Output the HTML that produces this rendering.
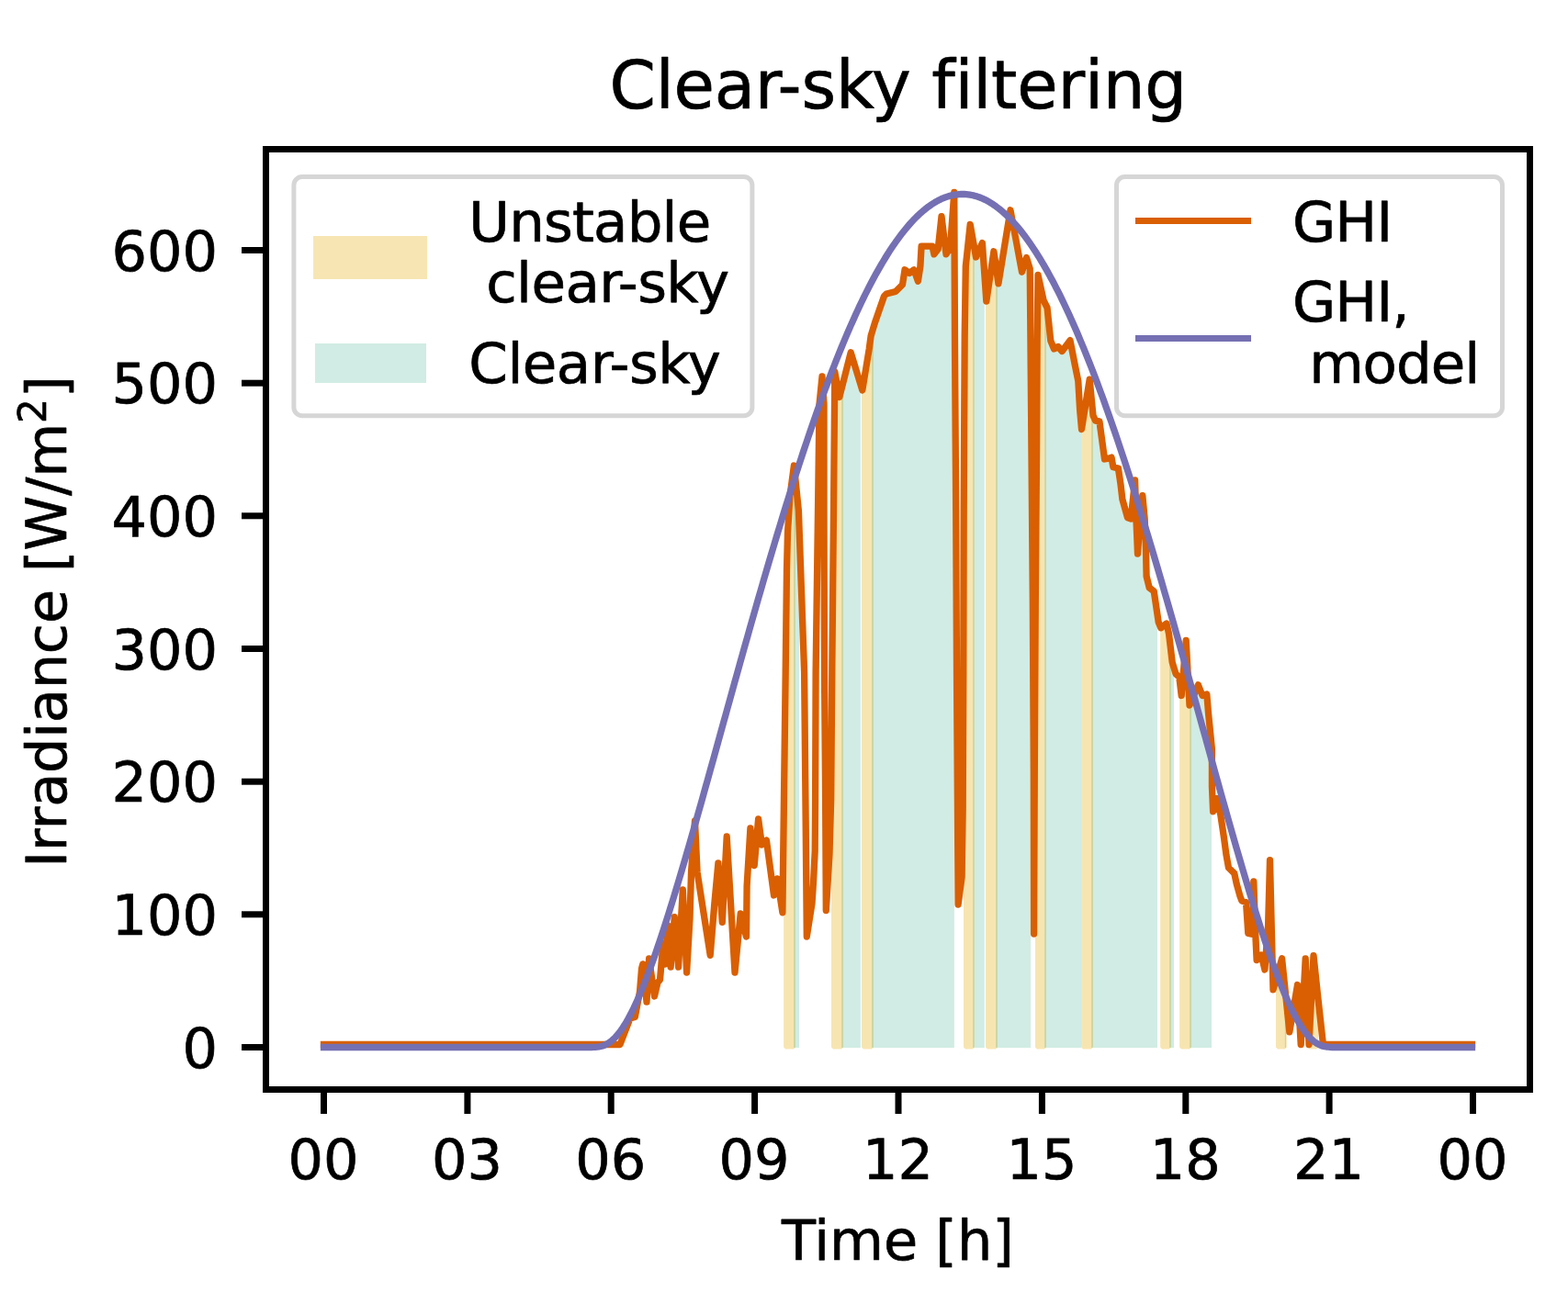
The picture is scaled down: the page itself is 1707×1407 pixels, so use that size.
<!DOCTYPE html>
<html lang="en"><head><meta charset="utf-8"><title>Clear-sky filtering</title>
<style>html,body{margin:0;padding:0;background:#fff}body{width:1707px;height:1407px;overflow:hidden}svg{display:block}text{font-family:"DejaVu Sans","Liberation Sans",sans-serif;fill:#000;stroke:#000;stroke-width:0.7;stroke-linejoin:round}</style>
</head><body>
<svg width="1707" height="1407" viewBox="0 0 1707 1407">
<rect x="0" y="0" width="1707" height="1407" fill="#fff"/>
<defs><clipPath id="ax"><rect x="289.5" y="162.5" width="1376.0" height="1024.0"/></clipPath></defs>
<g clip-path="url(#ax)">
<g opacity="0.3" fill="#e6ab02" stroke="#e6ab02" stroke-width="4" stroke-linejoin="bevel">
<path d="M855.1 1140.5 L855.1 739.9 L855.2 732 L856.5 620 L857.5 580 L860 540 L864 510.4 L864 1140.5Z"/>
<path d="M907 1140.5 L907 610.9 L907.5 556 L908.8 405 L913.8 432.5 L916.1 423.3 L916.1 1140.5Z"/>
<path d="M940 1140.5 L940 417.5 L946.2 380 L948.1 365.9 L949 362.9 L949 1140.5Z"/>
<path d="M1051 1140.5 L1051 312.1 L1051.3 290 L1056.2 244.4 L1058.9 259.7 L1058.9 1140.5Z"/>
<path d="M1075 1140.5 L1075 319.8 L1081.9 273.8 L1084 288.6 L1084 1140.5Z"/>
<path d="M1129 1140.5 L1129 409 L1129.2 370 L1130 299.4 L1136.2 327.5 L1137 328.9 L1137 1140.5Z"/>
<path d="M1179 1140.5 L1179 458.5 L1186.2 413.1 L1188 431.1 L1188 1140.5Z"/>
<path d="M1265.1 1140.5 L1265.1 682.7 L1270 679 L1272.5 690 L1272.9 693.3 L1272.9 1140.5Z"/>
<path d="M1286.1 1140.5 L1286.1 756 L1286.2 757.5 L1291.2 697.5 L1295 768.1 L1295.1 768 L1295.1 1140.5Z"/>
<path d="M1391 1140.5 L1391 1060.2 L1395.6 1043.8 L1398.8 1075 L1398.8 1140.5Z"/>
<path d="M1425.5 1140.5 L1425.5 1127.8 L1430 1040.6 L1433.1 1070.3 L1433.1 1140.5Z"/>
</g>
<g fill="#1b9e77" fill-opacity="0.2">
<path d="M864 1140.9 L864 510 L864.4 507 L869.4 556 L870.1 575.9 L870.1 1140.9Z"/>
<path d="M916.1 1140.9 L916.1 423.2 L926.2 383.8 L936.9 418.9 L936.9 1140.9Z"/>
<path d="M949 1140.9 L949 362.9 L952.5 351.2 L962.5 322.5 L965 320 L975 317.5 L982.5 310 L985 293.8 L990 297.5 L995 293.8 L999.4 306.2 L1001.9 290 L1003.1 268.1 L1015 268.1 L1016.9 276.9 L1021.2 271.2 L1025 235.6 L1030 276.9 L1034.4 270 L1038.8 209.4 L1038.9 241.5 L1038.9 1140.9Z"/>
<path d="M1059 1140.9 L1059 259.8 L1062.5 280 L1069.4 264.6 L1071.8 300.3 L1071.8 1140.9Z"/>
<path d="M1084.1 1140.9 L1084.1 289.3 L1086.9 308.8 L1100 228.8 L1112.5 296.2 L1117.5 280.6 L1121.2 292.5 L1121.9 370 L1122.1 393.4 L1122.1 1140.9Z"/>
<path d="M1137.1 1140.9 L1137.1 329.1 L1140 335 L1143.8 371.2 L1147.5 380 L1151.9 377.5 L1156.2 382.5 L1165 370.6 L1170 396.2 L1173.8 415 L1175.6 446.2 L1177 461.3 L1177 1140.9Z"/>
<path d="M1188.1 1140.9 L1188.1 432.1 L1190 452.5 L1192.5 458.1 L1196.9 458.8 L1202.5 500 L1206.2 499.4 L1210 498.1 L1211.9 508.8 L1217.5 510 L1217.5 510.6 L1220 527.5 L1221.9 543.8 L1227.5 563.8 L1231.2 565 L1235.6 522.8 L1236.9 565 L1238.5 603.1 L1241.2 565 L1243.8 539.6 L1246.2 565 L1247.5 598.8 L1248.1 627.5 L1251.2 640 L1256.2 643.8 L1257.5 652.5 L1260 669.5 L1260 1140.9Z"/>
<path d="M1273 1140.9 L1273 694.6 L1276.2 721.2 L1278 727 L1278 1140.9Z"/>
<path d="M1295.1 1140.9 L1295.1 767.9 L1304.4 745.9 L1309 757.5 L1313.8 756 L1315.6 777.5 L1318.1 802.5 L1319 811.9 L1319 1140.9Z"/>
<path d="M1398.8 1140.9 L1398.8 1075 L1400 1086.8 L1400 1140.9Z"/>
</g>
<path d="M352.5 1137.5 L673 1137.5 L675 1137.5 L686 1109 L691.3 1107.5 L696.5 1080 L698.5 1055 L699.8 1049.9 L704 1091.2 L706.6 1043.9 L712.5 1085 L716 1070 L718.5 1067 L721.8 1028 L724 1050 L727 1008 L730.1 1053.1 L734.3 998.7 L738.6 1053.1 L743.3 968.9 L747.6 1059.1 L751 1000 L752.5 950 L756.5 893.8 L759.1 950 L773.2 1040.3 L777.8 984 L781.9 939.8 L786.3 1004.3 L791.2 911 L800 1059.1 L806.2 995 L812.5 1020 L813.1 965 L816.9 901.9 L821.2 942.5 L825.6 891.9 L829.4 920 L834.4 915 L842.5 975 L846.2 956.9 L851.9 993.8 L855.2 732 L856.5 620 L857.5 580 L860 540 L864.4 507 L869.4 556 L875.6 732 L877.2 900 L878.3 1020 L884 984 L885.5 961 L887.2 927 L887.6 870 L888.1 732 L890.5 556 L892 440 L895 410 L897 440 L897 556 L897.5 732 L898.6 870 L899.3 991.6 L903 930 L904.7 870 L905.8 732 L907.5 556 L908.8 405 L913.8 432.5 L926.2 383.8 L938.8 425 L946.2 380 L948.1 365.9 L952.5 351.2 L962.5 322.5 L965 320 L975 317.5 L982.5 310 L985 293.8 L990 297.5 L995 293.8 L999.4 306.2 L1001.9 290 L1003.1 268.1 L1015 268.1 L1016.9 276.9 L1021.2 271.2 L1025 235.6 L1030 276.9 L1034.4 270 L1038.8 209.4 L1039.5 370 L1040.7 556 L1041.5 732 L1043.1 985 L1047.1 955 L1048.2 880 L1048.8 732 L1049.2 556 L1050.2 366 L1051.3 290 L1056.2 244.4 L1062.5 280 L1069.4 264.6 L1073.8 328.1 L1081.9 273.8 L1086.9 308.8 L1100 228.8 L1112.5 296.2 L1117.5 280.6 L1121.2 292.5 L1121.9 370 L1122.9 487 L1124.3 653 L1125.3 840 L1125.6 1017 L1126.3 840 L1127.3 653 L1128.6 487 L1129.2 370 L1130 299.4 L1136.2 327.5 L1140 335 L1143.8 371.2 L1147.5 380 L1151.9 377.5 L1156.2 382.5 L1165 370.6 L1170 396.2 L1173.8 415 L1175.6 446.2 L1177.5 467.5 L1186.2 413.1 L1190 452.5 L1192.5 458.1 L1196.9 458.8 L1202.5 500 L1206.2 499.4 L1210 498.1 L1211.9 508.8 L1217.5 510 L1217.5 510.6 L1220 527.5 L1221.9 543.8 L1227.5 563.8 L1231.2 565 L1235.6 522.8 L1236.9 565 L1238.5 603.1 L1241.2 565 L1243.8 539.6 L1246.2 565 L1247.5 598.8 L1248.1 627.5 L1251.2 640 L1256.2 643.8 L1257.5 652.5 L1261.2 677.5 L1263.8 683.8 L1270 679 L1272.5 690 L1276.2 721.2 L1280 733.8 L1283.8 737.5 L1286.2 757.5 L1291.2 697.5 L1295 768.1 L1304.4 745.9 L1309 757.5 L1313.8 756 L1315.6 777.5 L1318.1 802.5 L1319.4 815.9 L1319.4 831.2 L1319.4 856.2 L1320.6 883.8 L1325 869.6 L1328.8 887.5 L1332.5 912.5 L1335 931.2 L1337.5 945 L1343.8 951.2 L1346.2 962.5 L1350 975.9 L1351.9 981 L1356.5 982.5 L1358.8 1016.5 L1363.8 1017.5 L1364.8 959.8 L1366.9 1020 L1368.1 1045.6 L1373.1 1040 L1376.9 1056 L1380.6 1007.5 L1382.5 936.6 L1384.8 1032.5 L1386 1077.8 L1395.6 1043.8 L1403.8 1123.8 L1412.5 1072.5 L1416.2 1137.5 L1421.2 1043.8 L1425 1137.5 L1430 1040.6 L1434.4 1082.5 L1440.4 1137.2 L1445 1137.5 L1602.5 1137.5" fill="none" stroke="#d95f02" stroke-width="7.3" stroke-linejoin="round" stroke-linecap="square"/>
<path d="M352.5 1140.5 L640 1140.5 L642 1140.5 L644 1140.5 L646 1140.4 L648 1140.4 L650 1140.2 L652 1139.9 L654 1139.5 L656 1139 L658 1138.3 L660 1137.3 L662 1136.2 L664 1134.9 L666 1133.3 L668 1131.5 L670 1129.5 L672 1127.3 L674 1124.8 L676 1122.1 L678 1119.2 L680 1116.1 L682 1112.8 L684 1109.3 L686 1105.5 L688 1101.6 L690 1097.6 L692 1093.3 L694 1088.9 L696 1084.3 L698 1079.6 L700 1074.8 L702 1069.7 L704 1064.6 L706 1059.3 L708 1054 L710 1048.5 L712 1042.9 L714 1037.1 L716 1031.3 L718 1025.4 L720 1019.4 L722 1013.3 L724 1007.1 L726 1000.9 L728 994.6 L730 988.2 L732 981.7 L734 975.2 L736 968.6 L738 962 L740 955.3 L742 948.6 L744 941.8 L746 934.9 L748 928.1 L750 921.2 L752 914.2 L754 907.2 L756 900.2 L758 893.2 L760 886.1 L762 879 L764 871.9 L766 864.8 L768 857.6 L770 850.5 L772 843.3 L774 836.1 L776 828.9 L778 821.7 L780 814.5 L782 807.3 L784 800 L786 792.8 L788 785.6 L790 778.4 L792 771.1 L794 763.9 L796 756.7 L798 749.5 L800 742.3 L802 735.2 L804 728 L806 720.8 L808 713.7 L810 706.6 L812 699.5 L814 692.4 L816 685.3 L818 678.3 L820 671.2 L822 664.2 L824 657.2 L826 650.3 L828 643.4 L830 636.5 L832 629.6 L834 622.7 L836 615.9 L838 609.1 L840 602.4 L842 595.7 L844 589 L846 582.4 L848 575.7 L850 569.2 L852 562.6 L854 556.1 L856 549.7 L858 543.3 L860 536.9 L862 530.6 L864 524.3 L866 518 L868 511.8 L870 505.7 L872 499.6 L874 493.5 L876 487.5 L878 481.6 L880 475.6 L882 469.8 L884 464 L886 458.2 L888 452.5 L890 446.8 L892 441.2 L894 435.7 L896 430.2 L898 424.8 L900 419.4 L902 414.1 L904 408.8 L906 403.6 L908 398.5 L910 393.4 L912 388.4 L914 383.4 L916 378.5 L918 373.6 L920 368.9 L922 364.1 L924 359.5 L926 354.9 L928 350.4 L930 345.9 L932 341.5 L934 337.2 L936 332.9 L938 328.7 L940 324.6 L942 320.5 L944 316.6 L946 312.6 L948 308.8 L950 305 L952 301.3 L954 297.6 L956 294.1 L958 290.6 L960 287.1 L962 283.8 L964 280.5 L966 277.3 L968 274.1 L970 271.1 L972 268.1 L974 265.2 L976 262.3 L978 259.6 L980 256.9 L982 254.2 L984 251.7 L986 249.2 L988 246.8 L990 244.5 L992 242.3 L994 240.1 L996 238 L998 236 L1000 234.1 L1002 232.2 L1004 230.5 L1006 228.8 L1008 227.2 L1010 225.6 L1012 224.2 L1014 222.8 L1016 221.5 L1018 220.2 L1020 219.1 L1022 218 L1024 217.1 L1026 216.1 L1028 215.3 L1030 214.6 L1032 213.9 L1034 213.3 L1036 212.8 L1038 212.4 L1040 212 L1042 211.8 L1044 211.6 L1046 211.5 L1048 211.4 L1050 211.5 L1052 211.6 L1054 211.8 L1056 212.1 L1058 212.5 L1060 212.9 L1062 213.5 L1064 214.1 L1066 214.8 L1068 215.5 L1070 216.4 L1072 217.3 L1074 218.3 L1076 219.4 L1078 220.6 L1080 221.8 L1082 223.2 L1084 224.6 L1086 226.1 L1088 227.6 L1090 229.3 L1092 231 L1094 232.8 L1096 234.7 L1098 236.6 L1100 238.6 L1102 240.7 L1104 242.9 L1106 245.2 L1108 247.5 L1110 249.9 L1112 252.4 L1114 255 L1116 257.6 L1118 260.4 L1120 263.1 L1122 266 L1124 269 L1126 272 L1128 275.1 L1130 278.2 L1132 281.4 L1134 284.8 L1136 288.1 L1138 291.6 L1140 295.1 L1142 298.7 L1144 302.4 L1146 306.1 L1148 309.9 L1150 313.8 L1152 317.7 L1154 321.7 L1156 325.8 L1158 330 L1160 334.2 L1162 338.5 L1164 342.8 L1166 347.2 L1168 351.7 L1170 356.2 L1172 360.8 L1174 365.5 L1176 370.3 L1178 375.1 L1180 379.9 L1182 384.8 L1184 389.8 L1186 394.9 L1188 400 L1190 405.1 L1192 410.4 L1194 415.6 L1196 421 L1198 426.4 L1200 431.8 L1202 437.3 L1204 442.9 L1206 448.5 L1208 454.2 L1210 459.9 L1212 465.7 L1214 471.5 L1216 477.4 L1218 483.3 L1220 489.3 L1222 495.3 L1224 501.4 L1226 507.5 L1228 513.7 L1230 519.9 L1232 526.1 L1234 532.4 L1236 538.8 L1238 545.1 L1240 551.6 L1242 558 L1244 564.5 L1246 571.1 L1248 577.7 L1250 584.3 L1252 591 L1254 597.6 L1256 604.4 L1258 611.1 L1260 617.9 L1262 624.7 L1264 631.6 L1266 638.5 L1268 645.4 L1270 652.3 L1272 659.3 L1274 666.3 L1276 673.3 L1278 680.3 L1280 687.4 L1282 694.4 L1284 701.5 L1286 708.7 L1288 715.8 L1290 722.9 L1292 730.1 L1294 737.3 L1296 744.4 L1298 751.6 L1300 758.8 L1302 766 L1304 773.3 L1306 780.5 L1308 787.7 L1310 794.9 L1312 802.1 L1314 809.4 L1316 816.6 L1318 823.8 L1320 831 L1322 838.2 L1324 845.4 L1326 852.6 L1328 859.7 L1330 866.9 L1332 874 L1334 881.1 L1336 888.2 L1338 895.2 L1340 902.3 L1342 909.3 L1344 916.2 L1346 923.2 L1348 930.1 L1350 936.9 L1352 943.8 L1354 950.5 L1356 957.3 L1358 963.9 L1360 970.6 L1362 977.1 L1364 983.6 L1366 990.1 L1368 996.4 L1370 1002.7 L1372 1009 L1374 1015.1 L1376 1021.2 L1378 1027.2 L1380 1033 L1382 1038.8 L1384 1044.5 L1386 1050.1 L1388 1055.6 L1390 1060.9 L1392 1066.1 L1394 1071.2 L1396 1076.2 L1398 1081 L1400 1085.7 L1402 1090.2 L1404 1094.6 L1406 1098.8 L1408 1102.8 L1410 1106.6 L1412 1110.3 L1414 1113.8 L1416 1117 L1418 1120.1 L1420 1122.9 L1422 1125.6 L1424 1128 L1426 1130.1 L1428 1132.1 L1430 1133.8 L1432 1135.3 L1434 1136.6 L1436 1137.6 L1438 1138.5 L1440 1139.2 L1442 1139.7 L1444 1140 L1446 1140.2 L1448 1140.4 L1450 1140.5 L1452 1140.5 L1454 1140.5 L1456 1140.5 L1458 1140.5 L1602.5 1140.5" fill="none" stroke="#7570b3" stroke-width="7.3" stroke-linejoin="round" stroke-linecap="square"/>
</g>
<g stroke="#000" stroke-width="7" fill="none">
<line x1="352.5" y1="1186.5" x2="352.5" y2="1213"/>
<line x1="508.9" y1="1186.5" x2="508.9" y2="1213"/>
<line x1="665.2" y1="1186.5" x2="665.2" y2="1213"/>
<line x1="821.6" y1="1186.5" x2="821.6" y2="1213"/>
<line x1="978" y1="1186.5" x2="978" y2="1213"/>
<line x1="1134.4" y1="1186.5" x2="1134.4" y2="1213"/>
<line x1="1290.8" y1="1186.5" x2="1290.8" y2="1213"/>
<line x1="1447.1" y1="1186.5" x2="1447.1" y2="1213"/>
<line x1="1603.5" y1="1186.5" x2="1603.5" y2="1213"/>
<line x1="263" y1="1140.5" x2="289.5" y2="1140.5"/>
<line x1="263" y1="995.8" x2="289.5" y2="995.8"/>
<line x1="263" y1="851.2" x2="289.5" y2="851.2"/>
<line x1="263" y1="706.5" x2="289.5" y2="706.5"/>
<line x1="263" y1="561.8" x2="289.5" y2="561.8"/>
<line x1="263" y1="417.2" x2="289.5" y2="417.2"/>
<line x1="263" y1="272.5" x2="289.5" y2="272.5"/>
</g>
<rect x="289.5" y="162.5" width="1376.0" height="1024.0" fill="none" stroke="#000" stroke-width="7"/>
<g font-size="60.5">
<text x="352" y="1284" text-anchor="middle">00</text>
<text x="508.4" y="1284" text-anchor="middle">03</text>
<text x="664.8" y="1284" text-anchor="middle">06</text>
<text x="821.1" y="1284" text-anchor="middle">09</text>
<text x="977.5" y="1284" text-anchor="middle">12</text>
<text x="1133.9" y="1284" text-anchor="middle">15</text>
<text x="1290.2" y="1284" text-anchor="middle">18</text>
<text x="1446.6" y="1284" text-anchor="middle">21</text>
<text x="1603" y="1284" text-anchor="middle">00</text>
<text x="237" y="1162.5" text-anchor="end">0</text>
<text x="237" y="1017.8" text-anchor="end">100</text>
<text x="237" y="873.2" text-anchor="end">200</text>
<text x="237" y="728.5" text-anchor="end">300</text>
<text x="237" y="583.8" text-anchor="end">400</text>
<text x="237" y="439.2" text-anchor="end">500</text>
<text x="237" y="294.5" text-anchor="end">600</text>
</g>
<text x="977.5" y="1372" font-size="60.5" text-anchor="middle">Time [h]</text>
<g font-size="60.5">
<text transform="translate(72 944.8) rotate(-90)" letter-spacing="-0.2">Irradiance [W/m</text>
<text transform="translate(50 461) rotate(-90)" font-size="42.3">2</text>
<text transform="translate(72 433) rotate(-90)">]</text>
</g>
<text x="977.7" y="118" font-size="72.2" letter-spacing="-0.2" text-anchor="middle">Clear-sky filtering</text>
<rect x="319.9" y="192.6" width="499" height="260.1" rx="9" ry="9" fill="#fff" fill-opacity="0.8" stroke="#d6d6d6" stroke-width="5"/>
<rect x="341" y="257" width="124" height="47" fill="#f7e6b3"/>
<rect x="343" y="374" width="121" height="43" fill="#d1ece4"/>
<g font-size="61">
<text x="510.3" y="262.5" letter-spacing="-0.8" xml:space="preserve">Unstable</text>
<text x="510.4" y="329" letter-spacing="-0.6" xml:space="preserve"> clear-sky</text>
<text x="510.3" y="416.5" letter-spacing="-0.5" xml:space="preserve">Clear-sky</text>
</g>
<rect x="1215.5" y="192.6" width="420" height="260.1" rx="9" ry="9" fill="#fff" fill-opacity="0.8" stroke="#d6d6d6" stroke-width="5"/>
<line x1="1236" y1="240.4" x2="1362" y2="240.4" stroke="#d95f02" stroke-width="7"/>
<line x1="1236" y1="368.4" x2="1362" y2="368.4" stroke="#7570b3" stroke-width="7"/>
<g font-size="61">
<text x="1407" y="262.5" letter-spacing="-1" xml:space="preserve">GHI</text>
<text x="1407" y="349.8" letter-spacing="-1" xml:space="preserve">GHI,</text>
<text x="1406.7" y="416.5" letter-spacing="-0.95" xml:space="preserve"> model</text>
</g>
</svg>
</body></html>
